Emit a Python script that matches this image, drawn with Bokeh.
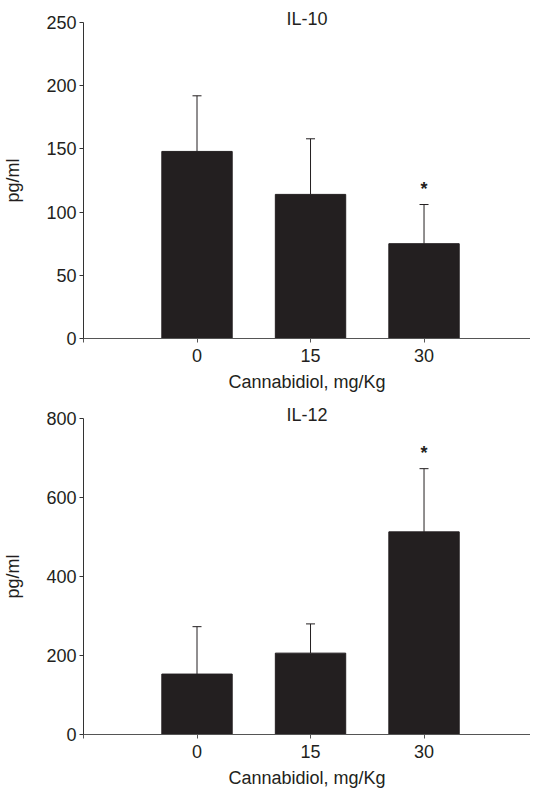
from bokeh.plotting import figure
from bokeh.layouts import column
from bokeh.models import ColumnDataSource, Whisker, FixedTicker, TeeHead, Range1d, Title
from bokeh.core.properties import value
from bokeh.embed import file_html
from bokeh.resources import INLINE

# ---- data ----
doses = ["0", "15", "30"]
il10_mean = [148, 114, 75]
il10_sd = [44, 44, 31]
il12_mean = [153, 206, 513]
il12_sd = [120, 74, 160]
significant = [False, False, True]

FONT = "Liberation Sans"
INK = "#231f20"
FS = "18px"


def make_panel(title, mean, sd, ymax, ystep, border_top, frame_h):
    pos = list(range(len(doses)))
    upper = [m + s for m, s in zip(mean, sd)]
    src = ColumnDataSource(dict(x=pos, mean=mean, upper=upper, dose=doses))
    star_src = ColumnDataSource(dict(
        x=[p for p, s in zip(pos, significant) if s],
        y=[u for u, s in zip(upper, significant) if s],
    ))
    p = figure(frame_width=447, frame_height=frame_h,
               x_range=Range1d(-1, 2.938), y_range=Range1d(0, ymax),
               output_backend="svg", toolbar_location=None,
               min_border_left=76, min_border_right=0,
               min_border_top=border_top, min_border_bottom=0)
    p.title = Title(text=title, align="center", offset=7, standoff=-16,
                    vertical_align="top",
                    text_font=FONT, text_font_size=FS, text_font_style="normal",
                    text_color=INK)
    p.outline_line_color = None
    p.xgrid.visible = False
    p.ygrid.visible = False
    p.background_fill_color = "white"
    p.border_fill_color = "white"

    p.vbar(x="x", top="mean", bottom=0, width=0.62, source=src,
           fill_color=INK, line_color=INK)
    wh = Whisker(source=src, base="x", upper="upper", lower="mean",
                 line_color=INK, line_width=1,
                 upper_head=TeeHead(size=9, line_color=INK, line_width=1),
                 lower_head=None)
    p.add_layout(wh)
    p.text(x="x", y="y", text=value("*"), source=star_src,
           text_font=value(FONT), text_font_size="18px", text_font_style="bold",
           text_color=INK, text_align="center", text_baseline="bottom",
           y_offset=-6)

    # x axis
    xa = p.xaxis[0]
    xa.ticker = FixedTicker(ticks=[-1] + pos)
    xa.major_label_overrides = {-1: ""} | {i: d for i, d in zip(pos, doses)}
    xa.minor_tick_line_color = None
    xa.major_tick_in = 0
    xa.major_tick_out = 4
    xa.axis_line_color = "#555"
    xa.major_tick_line_color = "#555"
    xa.major_label_text_font = FONT
    xa.major_label_text_font_size = FS
    xa.major_label_text_color = INK
    xa.major_label_standoff = 6
    xa.axis_label = "Cannabidiol, mg/Kg"
    xa.axis_label_text_font = FONT
    xa.axis_label_text_font_size = FS
    xa.axis_label_text_font_style = "normal"
    xa.axis_label_text_color = INK
    xa.axis_label_standoff = 7

    # y axis
    ya = p.yaxis[0]
    ya.ticker = FixedTicker(ticks=list(range(0, ymax + 1, ystep)))
    ya.minor_tick_line_color = None
    ya.major_tick_in = 0
    ya.major_tick_out = 4
    ya.axis_line_color = "#333"
    ya.major_tick_line_color = "#333"
    ya.major_label_text_font = FONT
    ya.major_label_text_font_size = FS
    ya.major_label_text_color = INK
    ya.major_label_standoff = 3
    ya.axis_label = "pg/ml"
    ya.axis_label_text_font = FONT
    ya.axis_label_text_font_size = FS
    ya.axis_label_text_font_style = "normal"
    ya.axis_label_text_color = INK
    ya.axis_label_standoff = 20
    return p


p1 = make_panel("IL-10", il10_mean, il10_sd, 250, 50, 22, 316)
p2 = make_panel("IL-12", il12_mean, il12_sd, 800, 200, 24, 316)

layout = column(p1, p2, spacing=0)
open("out.html", "w").write(file_html(layout, INLINE))
